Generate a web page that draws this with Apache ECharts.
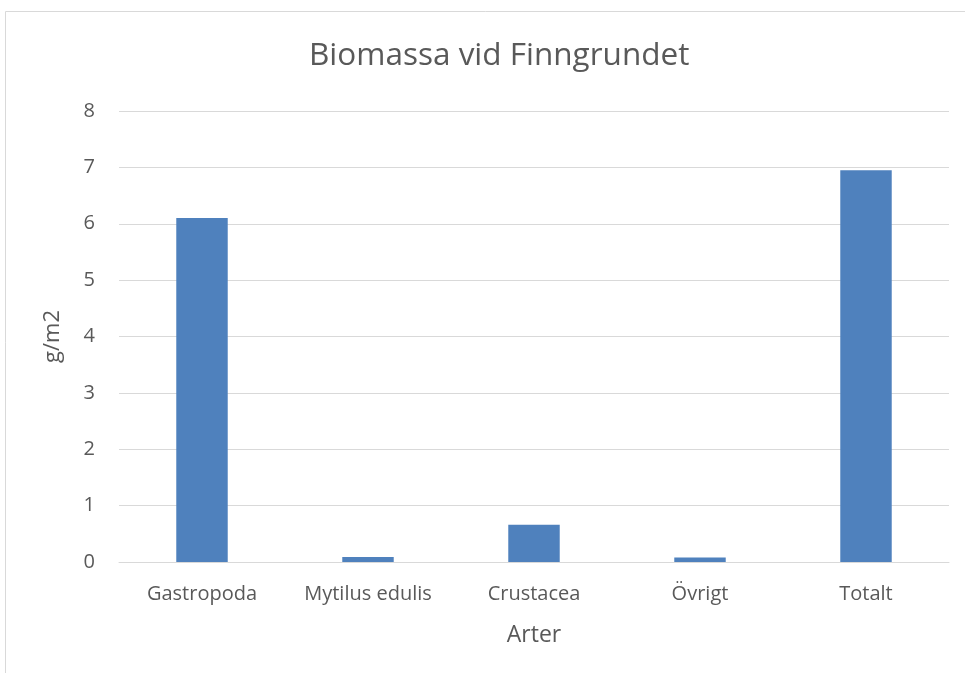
<!DOCTYPE html>
<html>
<head>
<meta charset="utf-8">
<script src="https://cdn.jsdelivr.net/npm/echarts@6/dist/echarts.min.js"></script>
<style>
    html, body { margin: 0; padding: 0; background: #fff; }
    #chart { width: 965px; height: 673px; }
</style>
</head>
<body>
<div id="chart"></div>
<script>
const categories = ['Gastropoda', 'Mytilus edulis', 'Crustacea', 'Övrigt', 'Totalt'];
const biomass = [6.1, 0.09, 0.66, 0.08, 6.95];

const chart = echarts.init(document.getElementById('chart'));
const font = 'Open Sans';

chart.setOption({
    animation: false,
    graphic: [{
        type: 'rect',
        shape: { x: 5.5, y: 11.5, width: 1000, height: 700 },
        style: { fill: 'none', stroke: '#d9d9d9', lineWidth: 1 },
        silent: true
    }],
    title: {
        text: 'Biomassa vid Finngrundet',
        left: 304,
        top: 35,
        textStyle: { fontFamily: font, fontSize: 31.5, fontWeight: 'normal', color: '#595959' }
    },
    grid: { left: 119, right: 16, top: 111, bottom: 111 },
    xAxis: {
        type: 'category',
        data: categories,
        name: 'Arter',
        nameLocation: 'middle',
        nameGap: 62,
        nameTextStyle: { fontFamily: font, fontSize: 23, color: '#595959' },
        axisLine: { lineStyle: { color: '#d9d9d9' } },
        axisTick: { show: false },
        axisLabel: { fontFamily: font, fontSize: 20, color: '#595959', margin: 22 }
    },
    yAxis: {
        type: 'value',
        min: 0,
        max: 8,
        interval: 1,
        name: 'g/m2',
        nameLocation: 'middle',
        nameGap: 55,
        nameTextStyle: { fontFamily: font, fontSize: 22, color: '#595959' },
        axisLine: { show: false },
        axisTick: { show: false },
        splitLine: { lineStyle: { color: '#d9d9d9' } },
        axisLabel: { fontFamily: font, fontSize: 20, color: '#595959', margin: 24 }
    },
    series: [{
        type: 'bar',
        data: biomass,
        barWidth: '31%',
        itemStyle: { color: '#4f81bd' }
    }]
});
</script>
</body>
</html>
